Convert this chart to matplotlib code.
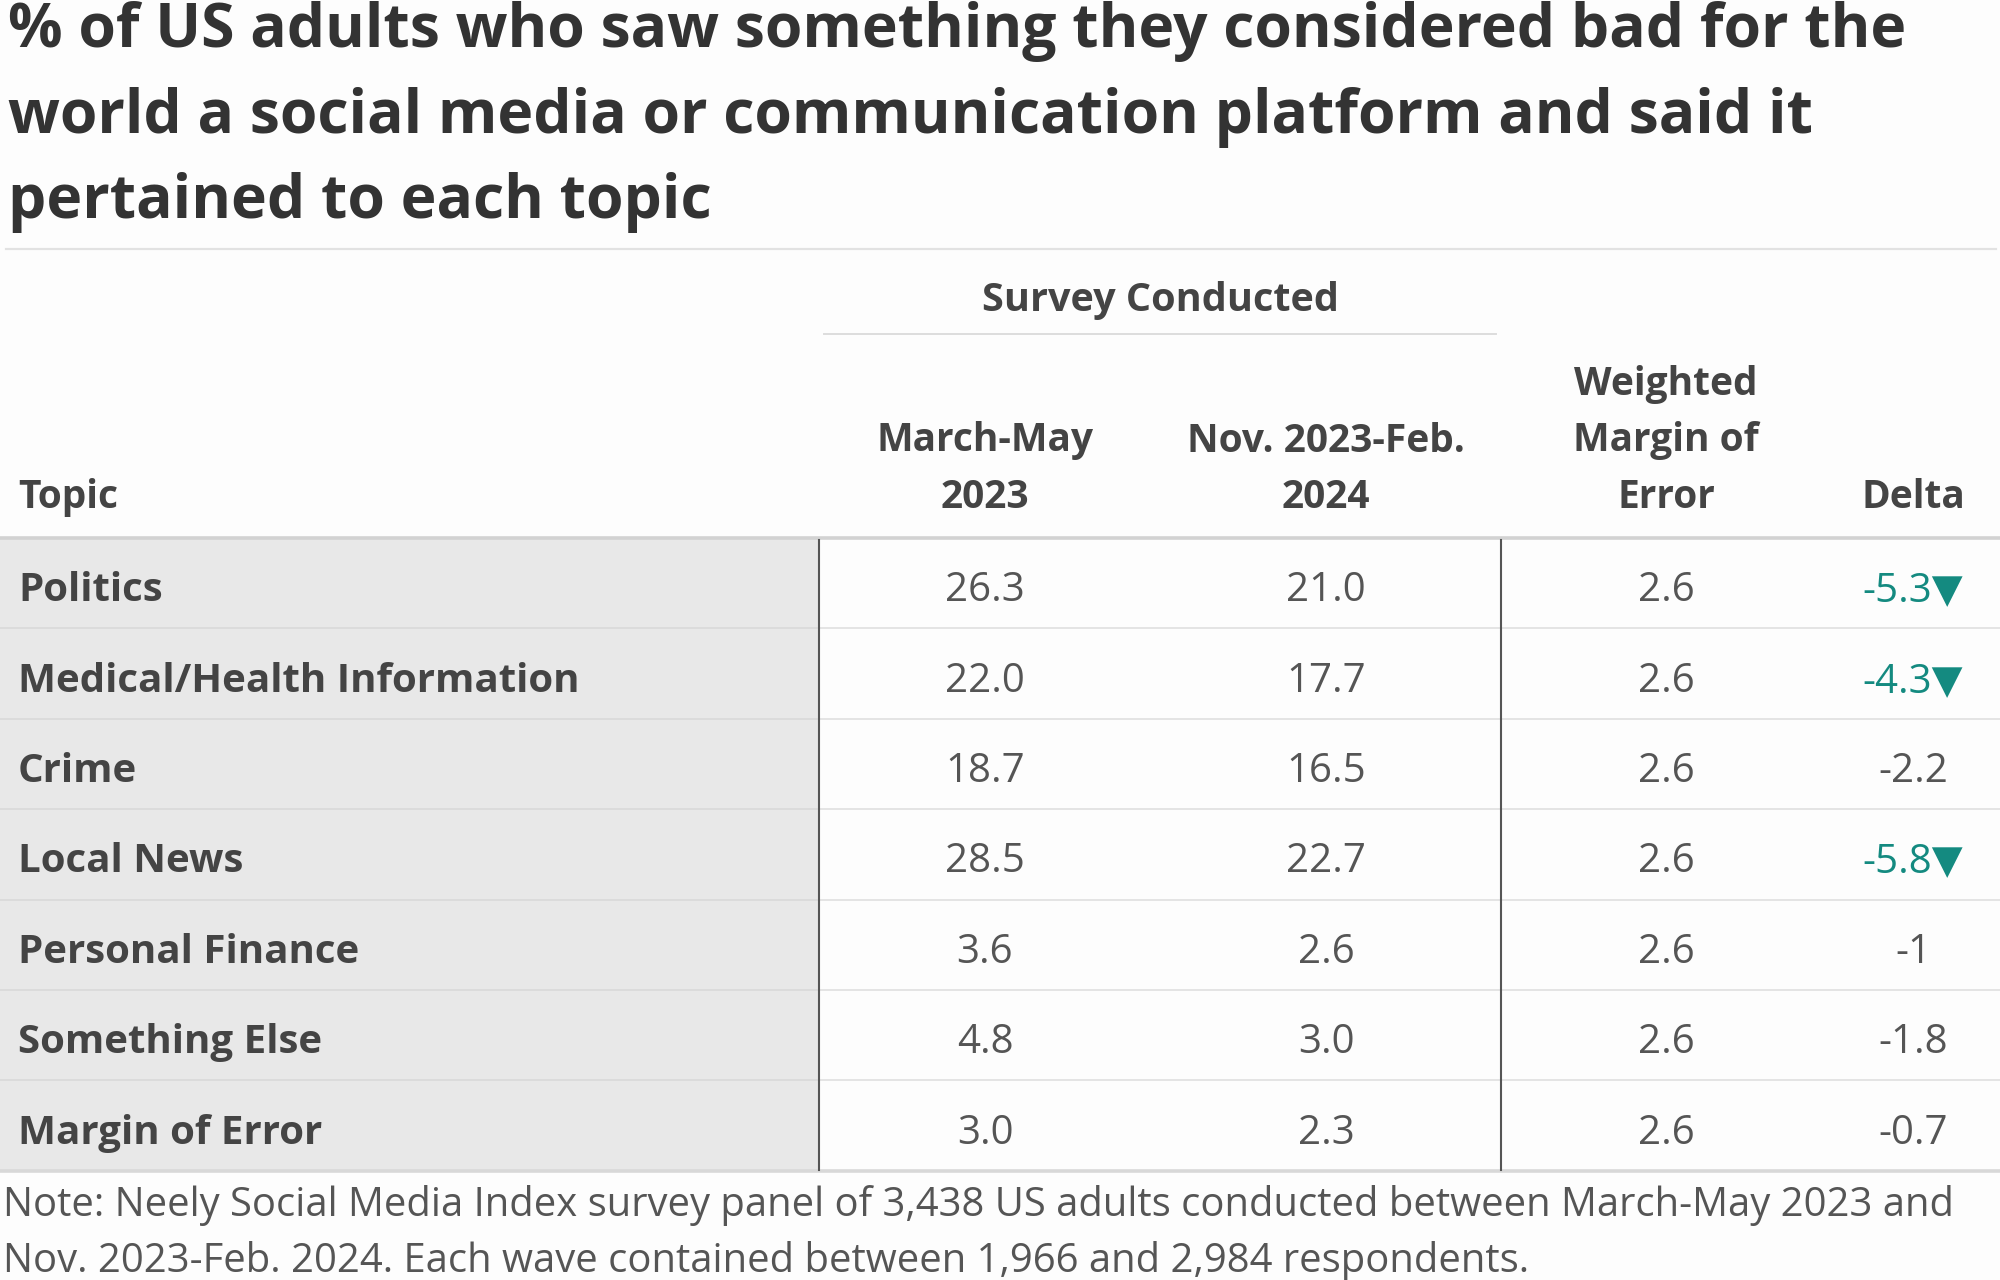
import matplotlib
matplotlib.use("Agg")
import matplotlib.pyplot as plt
from matplotlib.patches import Rectangle

plt.rcParams['font.family'] = ['Open Sans', 'DejaVu Sans']

# ---- data ----
title_lines = ["% of US adults who saw something they considered bad for the",
               "world a social media or communication platform and said it",
               "pertained to each topic"]
group_header = "Survey Conducted"
col_headers = [["Topic"], ["March-May", "2023"], ["Nov. 2023-Feb.", "2024"],
               ["Weighted", "Margin of", "Error"], ["Delta"]]
topics = ["Politics", "Medical/Health Information", "Crime", "Local News",
          "Personal Finance", "Something Else", "Margin of Error"]
wave1 = ["26.3", "22.0", "18.7", "28.5", "3.6", "4.8", "3.0"]
wave2 = ["21.0", "17.7", "16.5", "22.7", "2.6", "3.0", "2.3"]
moe = ["2.6", "2.6", "2.6", "2.6", "2.6", "2.6", "2.6"]
delta = ["-5.3", "-4.3", "-2.2", "-5.8", "-1", "-1.8", "-0.7"]
significant = [True, True, False, True, False, False, False]
note_lines = ["Note: Neely Social Media Index survey panel of 3,438 US adults conducted between March-May 2023 and",
              "Nov. 2023-Feb. 2024. Each wave contained between 1,966 and 2,984 respondents."]

# ---- layout / style ----
W, H = 2000, 1280
BG = "#fdfdfd"
TITLE_C = "#333333"
LABEL_C = "#444444"
NUM_C = "#555555"
TEAL = "#148a80"

fig = plt.figure(figsize=(W / 100, H / 100), dpi=100, facecolor=BG)
ax = fig.add_axes([0, 0, 1, 1])
ax.set_xlim(0, W)
ax.set_ylim(H, 0)
ax.axis('off')
ax.set_facecolor(BG)

# title
for i, line in enumerate(title_lines):
    ax.text(8, 47 + i * 85.5, line, fontsize=43.7, fontweight='bold', color=TITLE_C,
            ha='left', va='baseline')
ax.plot([6, 1996], [249, 249], color="#e2e2e2", lw=1.6)

# columns
col_x = [18, 985, 1326, 1666, 1913]
col_ha = ['left', 'center', 'center', 'center', 'center']
v1, v2 = 819, 1501
head_bottom = 538
row_h = 90.4
n = len(topics)
table_bottom = head_bottom + n * row_h

# group header
ax.text((824 + 1496) / 2, 311, group_header, fontsize=28.5, fontweight='bold',
        color=LABEL_C, ha='center', va='baseline')
ax.plot([824, 1496], [334, 334], color="#dddddd", lw=1.4)

# column headers (bottom aligned)
hdr_base = 508
hdr_step = 56.5
for j, lines in enumerate(col_headers):
    k = len(lines)
    for m, t in enumerate(lines):
        ax.text(col_x[j], hdr_base - (k - 1 - m) * hdr_step, t, fontsize=28,
                fontweight='bold', color=LABEL_C, ha=col_ha[j], va='baseline')

# topic column background
ax.add_patch(Rectangle((0, head_bottom), v1, n * row_h, facecolor="#e8e8e8",
                       edgecolor='none', zorder=0))

# row separators
for i in range(1, n):
    y = head_bottom + i * row_h
    ax.plot([0, v1], [y, y], color="#d9d9d9", lw=1.2, zorder=1)
    ax.plot([v1, W], [y, y], color="#e0e0e0", lw=1.2, zorder=1)

# header bottom & table bottom lines
ax.plot([0, W], [head_bottom, head_bottom], color="#d2d2d2", lw=2.6, zorder=2)
ax.plot([0, W], [table_bottom, table_bottom], color="#d8d8d8", lw=2.6, zorder=2)

# vertical rules
for x in (v1, v2):
    ax.plot([x, x], [head_bottom + 2, table_bottom - 1], color="#555555", lw=1.5, zorder=3)

# rows
for i in range(n):
    yb = head_bottom + (i + 0.5) * row_h + 18
    ax.text(col_x[0], yb, topics[i], fontsize=29, fontweight='bold', color=LABEL_C,
            ha='left', va='baseline')
    ax.text(col_x[1], yb, wave1[i], fontsize=29, color=NUM_C, ha='center', va='baseline')
    ax.text(col_x[2], yb, wave2[i], fontsize=29, color=NUM_C, ha='center', va='baseline')
    ax.text(col_x[3], yb, moe[i], fontsize=29, color=NUM_C, ha='center', va='baseline')
    if significant[i]:
        ax.text(col_x[4], yb, delta[i] + "\u25BC", fontsize=29, color=TEAL,
                ha='center', va='baseline')
    else:
        ax.text(col_x[4], yb, delta[i], fontsize=29, color=NUM_C, ha='center', va='baseline')

# note
for i, line in enumerate(note_lines):
    ax.text(3, 1216 + i * 56, line, fontsize=28.8, color=NUM_C, ha='left', va='baseline')

fig.savefig("out.png", dpi=100, facecolor=BG)
